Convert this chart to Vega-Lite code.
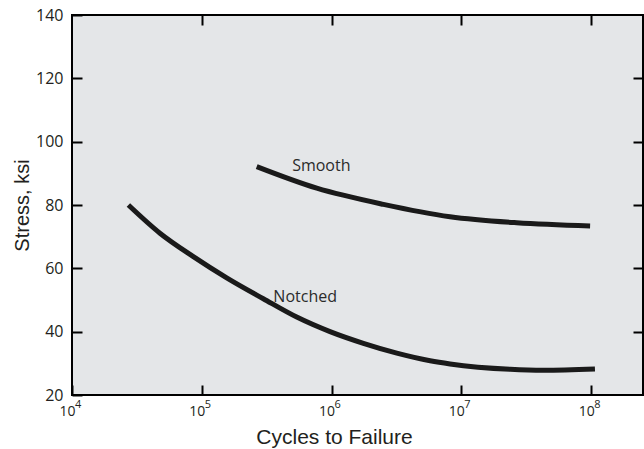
{
  "$schema": "https://vega.github.io/schema/vega-lite/v6.json",
  "width": 571,
  "height": 380,
  "autosize": {"type": "none"},
  "padding": {"left": 72, "top": 15, "right": 1, "bottom": 54},
  "background": "#ffffff",
  "config": {
    "view": {"fill": "#e4e6e8", "stroke": "#000000", "strokeWidth": 2},
    "axis": {
      "domain": false,
      "grid": false,
      "ticks": true,
      "tickColor": "#000000",
      "tickWidth": 2,
      "tickSize": -10,
      "labelFont": "Open Sans",
      "labelFontSize": 16,
      "labelColor": "#231f20",
      "titleFont": "Liberation Sans",
      "titleFontSize": 20,
      "titleFontWeight": "normal",
      "titleColor": "#231f20"
    }
  },
  "datasets": {
    "curves": [
      {"series": "Notched", "cycles": 27200, "stress": 80.0},
      {"series": "Notched", "cycles": 47600, "stress": 71.1},
      {"series": "Notched", "cycles": 86100, "stress": 63.7},
      {"series": "Notched", "cycles": 155600, "stress": 57.0},
      {"series": "Notched", "cycles": 298000, "stress": 50.4},
      {"series": "Notched", "cycles": 539000, "stress": 44.6},
      {"series": "Notched", "cycles": 973000, "stress": 40.0},
      {"series": "Notched", "cycles": 1759000, "stress": 36.3},
      {"series": "Notched", "cycles": 3182000, "stress": 33.2},
      {"series": "Notched", "cycles": 5746000, "stress": 30.8},
      {"series": "Notched", "cycles": 8185000, "stress": 29.8},
      {"series": "Notched", "cycles": 23800000, "stress": 28.1},
      {"series": "Notched", "cycles": 42900000, "stress": 27.8},
      {"series": "Notched", "cycles": 107000000, "stress": 28.2},
      {"series": "Smooth", "cycles": 265000, "stress": 92.1},
      {"series": "Smooth", "cycles": 769000, "stress": 85.3},
      {"series": "Smooth", "cycles": 2510000, "stress": 80.2},
      {"series": "Smooth", "cycles": 8180000, "stress": 76.3},
      {"series": "Smooth", "cycles": 26700000, "stress": 74.4},
      {"series": "Smooth", "cycles": 98200000, "stress": 73.4}
    ],
    "labels": [
      {"label": "Smooth", "cycles": 497000, "stress": 92.3},
      {"label": "Notched", "cycles": 356000, "stress": 51.0}
    ],
    "exponents": [
      {"exp": "4", "cycles": 10000, "stress": 20},
      {"exp": "5", "cycles": 100000, "stress": 20},
      {"exp": "6", "cycles": 1000000, "stress": 20},
      {"exp": "7", "cycles": 10000000, "stress": 20},
      {"exp": "8", "cycles": 100000000, "stress": 20}
    ]
  },
  "layer": [
    {
      "data": {"name": "curves"},
      "mark": {"type": "line", "color": "#1a1a1a", "strokeWidth": 5, "interpolate": "monotone", "strokeCap": "butt"},
      "encoding": {
        "x": {
          "field": "cycles", "type": "quantitative",
          "scale": {"type": "log", "domain": [10000, 251000000], "nice": false},
          "axis": {
            "orient": "bottom",
            "values": [10000, 100000, 1000000, 10000000, 100000000],
            "labelExpr": "'10'",
            "labelFlush": false,
            "labelOffset": -5,
            "labelPadding": 19,
            "labelFontSize": 14,
            "title": "Cycles to Failure",
            "titleFontSize": 21,
            "titleX": 262,
            "titlePadding": 8
          }
        },
        "y": {
          "field": "stress", "type": "quantitative",
          "scale": {"domain": [20, 140], "nice": false, "zero": false},
          "axis": {
            "orient": "left",
            "values": [20, 40, 60, 80, 100, 120, 140],
            "labelPadding": 19,
            "title": "Stress, ksi",
            "titlePadding": 3
          }
        },
        "detail": {"field": "series"}
      }
    },
    {
      "data": {"name": "labels"},
      "mark": {"type": "text", "font": "Open Sans", "fontSize": 16, "color": "#2b2b2b", "align": "left", "baseline": "middle"},
      "encoding": {
        "x": {
          "field": "cycles", "type": "quantitative",
          "axis": {"orient": "top", "values": [100000, 1000000, 10000000, 100000000], "labels": false, "title": null}
        },
        "y": {
          "field": "stress", "type": "quantitative",
          "axis": {"orient": "right", "values": [40, 60, 80, 100, 120], "labels": false, "title": null}
        },
        "text": {"field": "label"}
      }
    },
    {
      "data": {"name": "exponents"},
      "mark": {"type": "text", "font": "Open Sans", "fontSize": 11, "color": "#231f20", "align": "left", "baseline": "top", "dx": 3, "dy": 4, "clip": false},
      "encoding": {
        "x": {"field": "cycles", "type": "quantitative", "axis": null},
        "y": {"field": "stress", "type": "quantitative", "axis": null},
        "text": {"field": "exp"}
      }
    }
  ],
  "resolve": {"axis": {"x": "independent", "y": "independent"}}
}
